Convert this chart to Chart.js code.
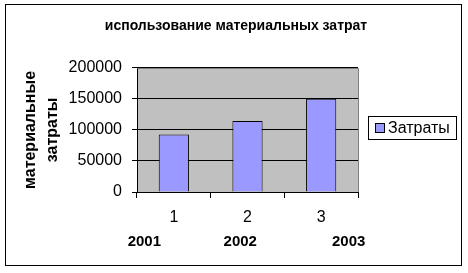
<!DOCTYPE html>
<html lang="ru">
<head>
  <meta charset="UTF-8" />
  <title>использование материальных затрат</title>
  <script src="https://cdn.jsdelivr.net/npm/chart.js"></script>
  <style>
    * { margin: 0; padding: 0; box-sizing: border-box; }
    body { background: #fff; width: 468px; height: 273px; overflow: hidden; }
    canvas { display: block; }
  </style>
</head>
<body>
  <canvas id="grafico" width="468" height="273"></canvas>

  <script>
    const categorias = ['1', '2', '3'];
    const anos = ['2001', '2002', '2003'];
    const zatraty = [92500, 114500, 150000];
    const serieNome = 'Затраты';
    const titulo = 'использование материальных затрат';
    const tituloY = ['материальные', 'затраты'];

    const fonte = "'Liberation Sans', Arial, sans-serif";

    // fundo cinza da area, borda externa, anos e legenda no estilo do Excel
    const molduras = {
      id: 'molduras',
      afterLayout(chart) {
        // titulo centrado na folha inteira, nao so na area do grafico
        chart.titleBlock.left = 0;
        chart.titleBlock.right = 472;
      },
      beforeDraw(chart) {
        const { ctx, chartArea: a } = chart;
        ctx.save();
        ctx.fillStyle = '#fff';
        ctx.fillRect(0, 0, chart.width, chart.height);
        ctx.fillStyle = '#c0c0c0';
        ctx.fillRect(a.left, a.top, a.right - a.left, a.bottom - a.top);
        ctx.restore();
      },
      afterDatasetsDraw(chart) {
        const { ctx, chartArea: a } = chart;
        ctx.save();
        ctx.strokeStyle = '#808080';
        ctx.lineWidth = 1;
        ctx.beginPath();
        ctx.moveTo(Math.round(a.left) + 0.5, Math.round(a.top) + 0.5);
        ctx.lineTo(Math.round(a.right) + 0.5, Math.round(a.top) + 0.5);
        ctx.lineTo(Math.round(a.right) + 0.5, Math.round(a.bottom));
        ctx.stroke();
        ctx.restore();
      },
      afterDraw(chart) {
        const { ctx, chartArea: a } = chart;
        const ds = chart.data.datasets[0];
        ctx.save();
        // titulo do eixo x (anos), sem compressao de largura
        ctx.fillStyle = '#000';
        ctx.font = 'bold 15px ' + fonte;
        ctx.textAlign = 'center';
        ctx.textBaseline = 'middle';
        const textoAnos = anos[0] + ' '.repeat(15) + anos[1] + ' '.repeat(18) + anos[2];
        ctx.fillText(textoAnos, (a.left + a.right) / 2 - 1, 242);

        ctx.strokeStyle = '#000';
        ctx.lineWidth = 1;
        ctx.strokeRect(5.5, 4.5, 456, 261);
        // legenda
        ctx.strokeRect(368.5, 116.5, 88, 23);
        ctx.fillStyle = ds.backgroundColor;
        ctx.fillRect(375, 123, 10, 10);
        ctx.strokeRect(375.5, 123.5, 9, 9);
        ctx.fillStyle = '#000';
        ctx.font = '16px ' + fonte;
        ctx.textAlign = 'left';
        ctx.fillText(ds.label, 388, 129);
        ctx.restore();
      }
    };

    const ctx = document.getElementById('grafico').getContext('2d');
    new Chart(ctx, {
      type: 'bar',
      data: {
        labels: categorias,
        datasets: [{
          label: serieNome,
          data: zatraty,
          backgroundColor: '#9999ff',
          borderColor: '#000',
          borderWidth: 1,
          barPercentage: 0.41,
          categoryPercentage: 1
        }]
      },
      options: {
        responsive: false,
        animation: false,
        devicePixelRatio: 1,
        layout: { padding: { left: 0, right: 110, top: 0, bottom: 0 } },
        plugins: {
          legend: { display: false },
          tooltip: { enabled: false },
          title: {
            display: true,
            text: titulo,
            color: '#000',
            font: { family: fonte, size: 14, weight: 'bold' },
            padding: { top: 18, bottom: 33 }
          }
        },
        scales: {
          x: {
            offset: true,
            grid: { offset: true, drawOnChartArea: false, color: '#000', tickLength: 6 },
            border: { color: '#000' },
            ticks: { color: '#000', font: { family: fonte, size: 16 }, padding: 10 },
            afterFit(s) { s.height = 81; }
          },
          y: {
            min: 0,
            max: 200000,
            ticks: {
              stepSize: 50000,
              color: '#000',
              font: { family: fonte, size: 16 },
              padding: 10,
              callback: v => String(v)
            },
            grid: { color: '#000', tickLength: 5 },
            border: { color: '#000' },
            title: {
              display: true,
              text: tituloY,
              color: '#000',
              font: { family: fonte, size: 16, weight: 'bold', lineHeight: 1.375 },
              padding: { top: 20, bottom: 0 }
            },
            afterFit(s) { s.width = 137; }
          }
        }
      },
      plugins: [molduras]
    });
  </script>
</body>
</html>
